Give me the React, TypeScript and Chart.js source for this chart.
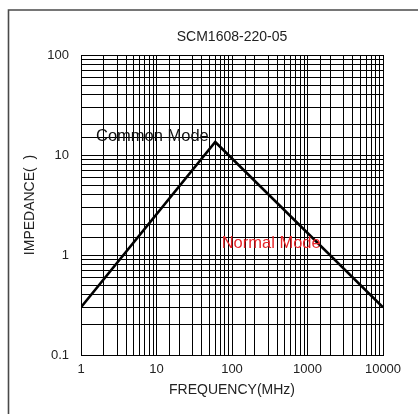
import React, { useEffect, useRef } from "react";
import { Chart, registerables } from "chart.js";

Chart.register(...registerables);

const chartTitle = "SCM1608-220-05";
const xAxisTitle = "FREQUENCY(MHz)";
const yAxisTitle = "IMPEDANCE(  )";
const frequencies = [1, 60, 10000];
const impedances = [0.3, 13.5, 0.3];
const xRange = [1, 10000];
const yRange = [0.1, 100];
const annotationTexts = ["Common Mode", "Normal Mode"];
const annotationX = [1.58, 73];
const annotationY = [13.9, 1.17];
const annotationColors = ["#111111", "#e8262a"];

const FONT = "'Liberation Sans', Arial, sans-serif";

const isDecade = (v: number) => {
  const l = Math.log10(v);
  return Math.abs(l - Math.round(l)) < 1e-9;
};

const fmt = (v: number) => {
  const l = Math.round(Math.log10(v));
  return l < 0 ? v.toFixed(-l) : String(Math.round(v));
};

const overlay = {
  id: "overlay",
  beforeDraw(chart: any) {
    const ctx = chart.ctx;
    ctx.save();
    ctx.strokeStyle = "#4a4a4a";
    ctx.lineWidth = 1.6;
    ctx.beginPath();
    ctx.moveTo(8.5, 420);
    ctx.lineTo(8.5, 10);
    ctx.lineTo(420, 10);
    ctx.stroke();
    ctx.restore();
  },
  afterDraw(chart: any) {
    const ctx = chart.ctx;
    const area = chart.chartArea;
    const xs = chart.scales.x;
    const ys = chart.scales.y;
    ctx.save();
    ctx.fillStyle = "#222";
    ctx.font = `14px ${FONT}`;
    ctx.textAlign = "center";
    ctx.textBaseline = "middle";
    ctx.fillText(chartTitle, (area.left + area.right) / 2, 37);
    ctx.font = `16.5px ${FONT}`;
    ctx.textAlign = "left";
    ctx.textBaseline = "alphabetic";
    annotationTexts.forEach((t, i) => {
      ctx.fillStyle = annotationColors[i];
      ctx.fillText(t, xs.getPixelForValue(annotationX[i]), ys.getPixelForValue(annotationY[i]));
    });
    ctx.restore();
  },
};

export default function App() {
  const ref = useRef<HTMLCanvasElement>(null);
  useEffect(() => {
    if (!ref.current) return;
    const chart = new Chart(ref.current, {
      type: "line",
      data: {
        datasets: [
          {
            data: frequencies.map((f, i) => ({ x: f, y: impedances[i] })),
            borderColor: "#000",
            borderWidth: 2.6,
            pointRadius: 0,
            tension: 0,
            fill: false,
          },
        ],
      },
      plugins: [overlay],
      options: {
        animation: false,
        responsive: false,
        maintainAspectRatio: false,
        layout: { padding: { left: 0, top: 55, right: 35, bottom: 0 } },
        plugins: { legend: { display: false }, tooltip: { enabled: false }, title: { display: false } },
        scales: {
          x: {
            type: "logarithmic",
            min: xRange[0],
            max: xRange[1],
            grid: { color: "#000", lineWidth: 1, drawTicks: false },
            border: { color: "#000", width: 1 },
            ticks: {
              autoSkip: false,
              maxRotation: 0,
              padding: 7,
              color: "#222",
              font: { family: FONT, size: 13 },
              callback: (v: any) => (isDecade(Number(v)) ? fmt(Number(v)) : ""),
            },
            title: {
              display: true,
              text: xAxisTitle,
              color: "#222",
              font: { family: FONT, size: 14 },
              padding: { top: 0, bottom: 15 },
            },
            afterFit: (s: any) => {
              s.height = 59;
              s.paddingLeft = 0;
              s.paddingRight = 0;
            },
          },
          y: {
            type: "logarithmic",
            min: yRange[0],
            max: yRange[1],
            grid: { color: "#000", lineWidth: 1, drawTicks: false },
            border: { color: "#000", width: 1 },
            ticks: {
              autoSkip: false,
              padding: 12,
              color: "#222",
              font: { family: FONT, size: 13 },
              callback: (v: any) => (isDecade(Number(v)) ? fmt(Number(v)) : ""),
            },
            title: {
              display: true,
              text: yAxisTitle,
              color: "#222",
              font: { family: FONT, size: 14 },
              padding: { top: 22, bottom: 0 },
            },
            afterFit: (s: any) => {
              s.width = 81;
              s.paddingTop = 0;
              s.paddingBottom = 0;
            },
          },
        },
      },
    } as any);
    return () => chart.destroy();
  }, []);
  return (
    <div style={{ position: "absolute", left: 0, top: 0, width: 418, height: 414, background: "#fff" }}>
      <canvas ref={ref} width={418} height={414} style={{ width: 418, height: 414, display: "block" }} />
    </div>
  );
}
